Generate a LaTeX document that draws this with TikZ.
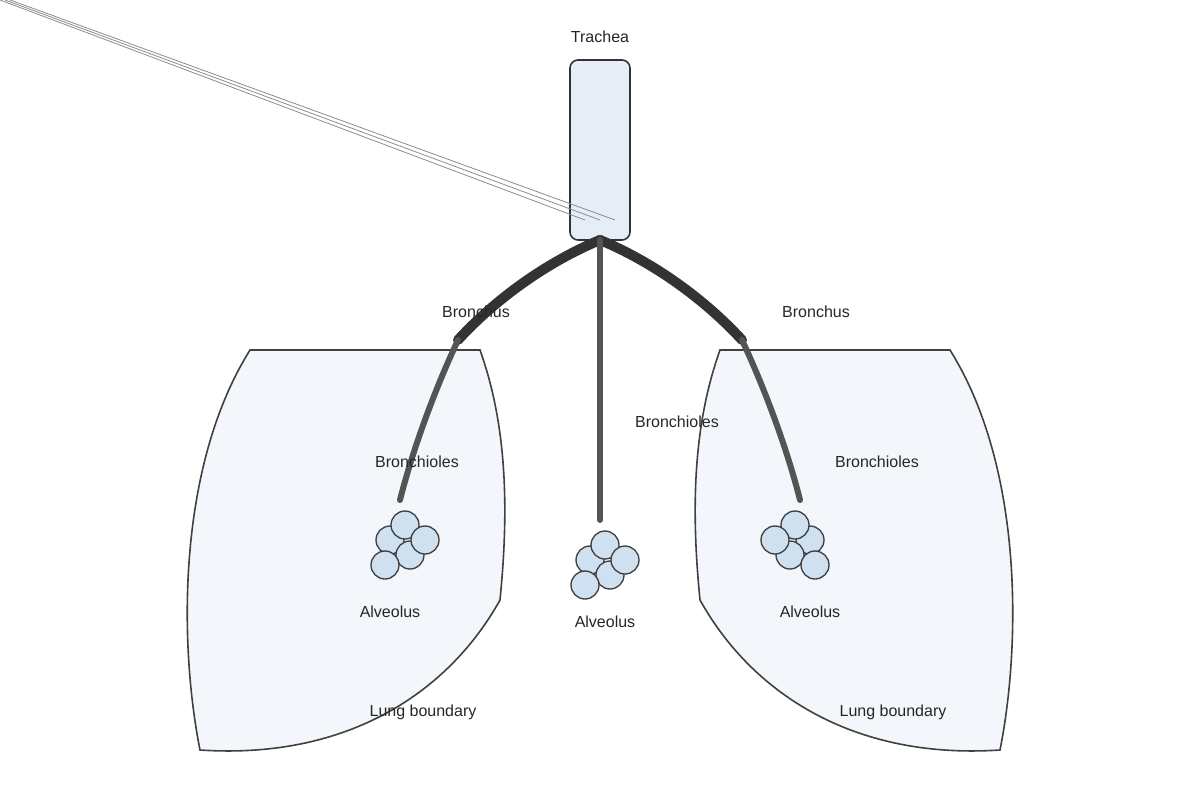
\documentclass[tikz,border=0pt]{standalone}
\usepackage{fontspec}
\setmainfont{Liberation Sans}
\begin{document}
\begin{tikzpicture}[x=0.75pt,y=-0.75pt,
  lung/.style={draw=black!75,line width=1.2pt,fill={rgb,255:red,243;green,246;blue,250}},
  alv/.style={circle,draw=black!75,line width=1pt,fill={rgb,255:red,207;green,224;blue,240},minimum size=21pt,inner sep=0pt},
  lbl/.style={font=\fontsize{12}{14}\selectfont,text=black!85},
  bron/.style={line width=7.5pt,draw=black!80,line cap=round},
  brl/.style={line width=4.5pt,draw=black!67,line cap=round},
  thin/.style={draw=black!45,line width=0.6pt}]
\useasboundingbox (0,0) rectangle (1200,800);
% lungs
\draw[lung] (250,350) -- (480,350) .. controls (505,420) and (510,500) .. (500,600)
  .. controls (450,690) and (350,760) .. (200,750) .. controls (180,650) and (175,470) .. (250,350) -- cycle;
\draw[lung] (950,350) -- (720,350) .. controls (695,420) and (690,500) .. (700,600)
  .. controls (750,690) and (850,760) .. (1000,750) .. controls (1020,650) and (1025,470) .. (950,350) -- cycle;
% trachea
\node[draw=black!80,line width=1.2pt,fill={rgb,255:red,230;green,237;blue,246},rounded corners=6pt,minimum width=45pt,minimum height=135pt,inner sep=0pt] (tr) at (600,150) {};
\coordinate (fork) at (600,240);
\coordinate (lb) at (458,340);
\coordinate (rb) at (742,340);
\coordinate (le) at (400,500);
\coordinate (re) at (800,500);
\coordinate (me) at (600,520);
\draw[bron] (fork) .. controls (540,265) and (490,305) .. (lb);
\draw[bron] (fork) .. controls (660,265) and (710,305) .. (rb);
\draw[brl] (lb) .. controls (430,400) and (410,460) .. (le);
\draw[brl] (rb) .. controls (770,400) and (790,460) .. (re);
\draw[brl] (fork) -- (me);
% alveoli
\foreach \n/\x/\y in {a1/390/540,a2/410/555,a3/385/565,a4/405/525,a5/425/540,
  b1/590/560,b2/610/575,b3/585/585,b4/605/545,b5/625/560,
  c1/810/540,c2/790/555,c3/795/525,c4/775/540,c5/815/565}
  \node[alv] (\n) at (\x,\y) {};
% thin lines
\coordinate (o1) at (0,0);
\coordinate (o2) at (5,0);
\coordinate (o3) at (10,0);
\coordinate (t1) at (585,220);
\coordinate (t2) at (600,220);
\coordinate (t3) at (615,220);
\draw[thin] (o1) -- (t1);
\draw[thin] (o2) -- (t2);
\draw[thin] (o3) -- (t3);
% labels
\node[lbl] (l1) at (600,37) {Trachea};
\node[lbl] (l2) at (476,312) {Bronchus};
\node[lbl] (l3) at (816,312) {Bronchus};
\node[lbl] (l4) at (677,422) {Bronchioles};
\node[lbl] (l5) at (417,462) {Bronchioles};
\node[lbl] (l6) at (877,462) {Bronchioles};
\node[lbl] (l7) at (390,612) {Alveolus};
\node[lbl] (l8) at (605,622) {Alveolus};
\node[lbl] (l9) at (810,612) {Alveolus};
\node[lbl] (l10) at (423,712) {Lung boundary};
\node[lbl] (l11) at (893,712) {Lung boundary};
\end{tikzpicture}
\end{document}
